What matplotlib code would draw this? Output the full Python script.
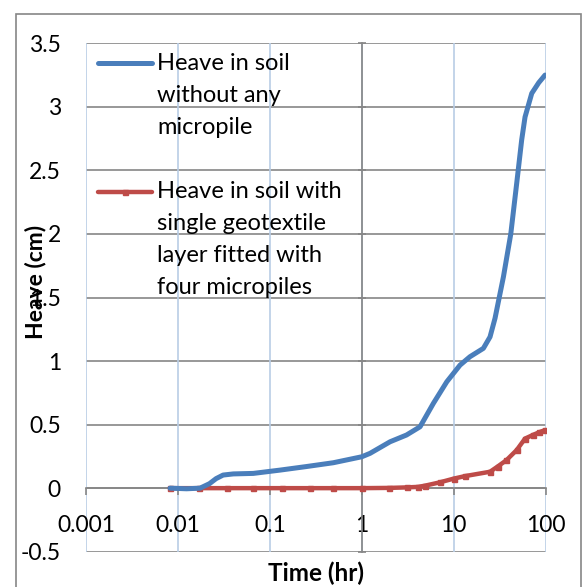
import matplotlib
matplotlib.use("Agg")
import matplotlib.pyplot as plt
from matplotlib.patches import Rectangle
from matplotlib.legend_handler import HandlerLine2D
import numpy as np

plt.rcParams['font.family'] = ['Lato', 'DejaVu Sans']

# Data
time_blue = [0.0082, 0.0124, 0.0174, 0.022, 0.026, 0.031, 0.04, 0.066, 0.129, 0.25, 0.49,
             1.0, 1.23, 2.03, 3.06, 4.3, 6.0, 8.4, 11.7, 15.0, 21.0, 24.8, 28.1,
             34.7, 41.7, 48.4, 54.8, 59.6, 70.5, 84.0, 98.4]
heave_blue = [0.0, -0.005, 0.0, 0.035, 0.075, 0.103, 0.112, 0.116, 0.142, 0.17, 0.2,
              0.247, 0.274, 0.365, 0.418, 0.483, 0.667, 0.837, 0.968, 1.034, 1.10, 1.19, 1.336,
              1.663, 2.0, 2.40, 2.74, 2.92, 3.106, 3.19, 3.25]

time_red = [0.0082, 0.017, 0.034, 0.066, 0.134, 0.27, 0.49, 1.0, 2.0, 3.1, 4.1, 4.9,
            7.0, 10.0, 13.3, 24.8, 30.0, 37.4, 48.4, 59.6, 73.4, 85.0, 98.4]
heave_red = [0.0, 0.0, 0.0, 0.0, 0.0, 0.0, 0.0, 0.0, 0.002, 0.006, 0.01, 0.02,
             0.045, 0.075, 0.095, 0.129, 0.17, 0.22, 0.30, 0.39, 0.42, 0.44, 0.457]

label_blue = "Heave in soil\nwithout any\nmicropile"
label_red = "Heave in soil with\nsingle geotextile\nlayer fitted with\nfour micropiles"

x_ticks = [0.001, 0.01, 0.1, 1, 10, 100]
x_ticklabels = ["0.001", "0.01", "0.1", "1", "10", "100"]
y_ticks = [-0.5, 0, 0.5, 1, 1.5, 2, 2.5, 3, 3.5]
y_ticklabels = ["-0.5", "0", "0.5", "1", "1.5", "2", "2.5", "3", "3.5"]

W, H = 586, 587
fig = plt.figure(figsize=(W / 100, H / 100), dpi=100)
fig.patch.set_facecolor("white")

# outer chart border
fig.patches.append(Rectangle((15.5 / W, -0.05), (581 - 15.5) / W, (H - 14) / H + 0.05,
                             transform=fig.transFigure, fill=False,
                             edgecolor="#868686", linewidth=1.2))

left, right, top, bottom = 86, 545.7, 43.3, 551.7
ax = fig.add_axes([left / W, (H - bottom) / H, (right - left) / W, (bottom - top) / H])
ax.set_xscale("log")
ax.set_xlim(0.001, 100)
ax.set_ylim(-0.5, 3.5)

grid_gray = "#868686"
grid_blue = "#b9cde5"

for yv in y_ticks:
    ax.axhline(yv, color=grid_gray, linewidth=1.2, zorder=1)
for xv in x_ticks:
    ax.axvline(xv, color=grid_blue, linewidth=1.2, zorder=1)

for s in ["top", "right"]:
    ax.spines[s].set_visible(False)
ax.spines["left"].set_position(("data", 1))
ax.spines["bottom"].set_position(("data", 0))
for s in ["left", "bottom"]:
    ax.spines[s].set_color(grid_gray)
    ax.spines[s].set_linewidth(1.2)
    ax.spines[s].set_zorder(2)

ax.set_xticks(x_ticks)
ax.set_xticklabels(x_ticklabels)
ax.xaxis.set_minor_locator(matplotlib.ticker.NullLocator())
ax.tick_params(axis="x", direction="out", length=5, width=1.2, color=grid_gray,
               labelsize=16.5, pad=14)
ax.set_yticks(y_ticks)
ax.tick_params(axis="y", direction="inout", length=6, width=1.2, color=grid_gray,
               labelleft=False)

sec = ax.secondary_yaxis("left", functions=(lambda v: v, lambda v: v))
sec.set_yticks(y_ticks)
sec.set_yticklabels(y_ticklabels)
sec.tick_params(axis="y", length=0, labelsize=16.5, pad=18)
sec.spines["left"].set_visible(False)

blue = "#4a7ebb"
red = "#be4b48"
line_b, = ax.plot(time_blue, heave_blue, color=blue, linewidth=3.6,
                  solid_capstyle="round", solid_joinstyle="round", label=label_blue, zorder=4)
line_r, = ax.plot(time_red, heave_red, color=red, linewidth=3.2, marker="s", markersize=3.6,
                  solid_capstyle="round", solid_joinstyle="round", label=label_red, zorder=3)


class FirstLineHandler(HandlerLine2D):
    def __init__(self, offset, **kw):
        super().__init__(**kw)
        self.offset = offset

    def create_artists(self, legend, orig_handle, xdescent, ydescent, width, height,
                       fontsize, trans):
        arts = super().create_artists(legend, orig_handle, xdescent, ydescent, width,
                                      height, fontsize, trans)
        for a in arts:
            a.set_ydata(np.asarray(a.get_ydata(), dtype=float) + self.offset)
        return arts


line_pts = 23.2  # spacing between text lines in points
leg = ax.legend(handles=[line_b, line_r],
                handler_map={line_b: FirstLineHandler(line_pts * 1.0),
                             line_r: FirstLineHandler(line_pts * 1.5)},
                loc="upper left",
                bbox_to_anchor=((97 - left - 15.5) / (right - left), 1.0 + 7 / (bottom - top)),
                frameon=False, fontsize=17, handlelength=2.3, handletextpad=0.2,
                labelspacing=1.85, borderaxespad=0.3)
for t in leg.get_texts():
    t.set_linespacing(1.645)

ax.set_xlabel("Time (hr)", fontsize=17.5, fontweight="bold")
ax.xaxis.set_label_coords((316 - left) / (right - left), -(562 - bottom) / (bottom - top))
ax.set_ylabel("Heave (cm)", fontsize=16.5, fontweight="bold")
ax.yaxis.set_label_coords((36 - left) / (right - left), (bottom - 282) / (bottom - top))
ax.yaxis.label.set_va("center")

fig.savefig("out.png", dpi=100, facecolor="white")
